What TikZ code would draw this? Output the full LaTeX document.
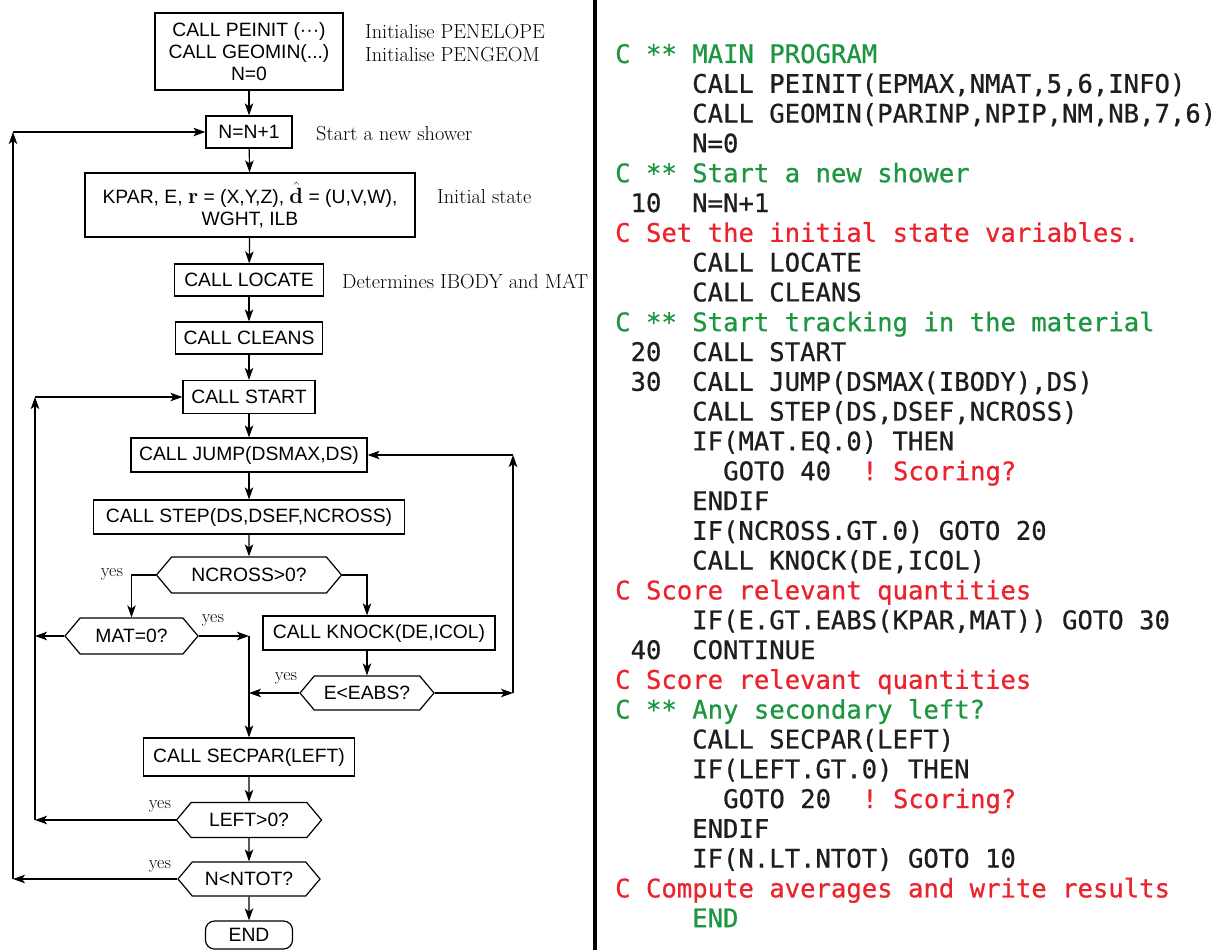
\documentclass[tikz,border=0pt]{standalone}
\usepackage{fontspec}
\usetikzlibrary{arrows.meta,shapes.symbols}
\newfontfamily\sansf{Liberation Sans}
\newfontfamily\codef[FakeBold=0.7]{DejaVu Sans Mono}
\definecolor{cgreen}{RGB}{30,150,65}
\definecolor{cred}{RGB}{235,35,45}
\definecolor{ccode}{RGB}{30,30,30}
\newcommand{\bvec}[1]{{\rmfamily\bfseries\fontsize{22}{22}\selectfont #1}}
\tikzset{
  box/.style={draw, line width=1.2pt, font=\sansf\fontsize{19.3}{22}\selectfont, inner xsep=6pt, inner ysep=2pt, minimum height=33pt},
  hexa/.style={draw, line width=1.2pt, signal, signal to=west and east, signal pointer angle=100, inner xsep=2pt, inner ysep=0pt, font=\sansf\fontsize{19.3}{22}\selectfont},
  endbox/.style={draw, line width=1.2pt, rounded corners=9pt, font=\sansf\fontsize{19.3}{22}\selectfont, inner sep=2pt},
  arr/.style={line width=1.2pt, -{Stealth[length=12pt,width=8.5pt,inset=3pt]}},
  anno/.style={anchor=west, inner sep=0pt, font=\fontsize{20.3}{22}\selectfont},
  yeslbl/.style={inner sep=0pt, font=\fontsize{18}{20}\selectfont},
  code/.style={anchor=base west, inner sep=0pt, text=ccode, font=\codef\fontsize{25.6}{28}\selectfont\frenchspacing},
}
\begin{document}
\begin{tikzpicture}[x=1pt,y=-1pt]
\useasboundingbox (0,0) rectangle (1222,950);
% divider
\draw[line width=4pt] (595,0) -- (595,950);

% flowchart nodes
\node[box, minimum width=188, minimum height=77, align=center] (init) at (249,51.5) {CALL PEINIT (···)\\CALL GEOMIN(...)\\N=0};
\node[box, minimum width=86, minimum height=32] (nn) at (249,132) {N=N+1};
\node[box, minimum width=330, minimum height=64, align=center] (state) at (250,205) {KPAR, E, \bvec{r} = (X,Y,Z), $\hat{\hbox{\bvec{d}}}$ = (U,V,W),\\WGHT, ILB};
\node[box, minimum width=149, minimum height=32] (locate) at (249,280) {CALL LOCATE};
\node[box, minimum width=147, minimum height=32] (cleans) at (249,338) {CALL CLEANS};
\node[box, minimum width=132, minimum height=33] (start) at (249,397) {CALL START};
\node[box, minimum width=236, minimum height=34] (jump) at (249,455) {CALL JUMP(DSMAX,DS)};
\node[box, minimum width=311, minimum height=34] (step) at (249,517) {CALL STEP(DS,DSEF,NCROSS)};
\node[hexa, minimum width=185, minimum height=36] (ncross) at (249,575) {NCROSS>0?};
\node[hexa, minimum width=133, minimum height=36] (mat) at (131.5,636) {MAT=0?};
\node[box, minimum width=232, minimum height=34] (knock) at (379,633) {CALL KNOCK(DE,ICOL)};
\node[hexa, minimum width=134, minimum height=34] (eabs) at (367,693) {E<EABS?};
\node[box, minimum width=211, minimum height=38] (secpar) at (249,757) {CALL SECPAR(LEFT)};
\node[hexa, minimum width=145, minimum height=35] (left) at (249,820) {LEFT>0?};
\node[hexa, minimum width=142, minimum height=34] (ntot) at (249,879) {N<NTOT?};
\node[endbox, minimum width=87, minimum height=28] (end) at (249,935) {END};

% annotations
\node[anno] (a1) at (365,32) {Initialise PENELOPE};
\node[anno] (a2) at (365,55) {Initialise PENGEOM};
\node[anno] (a3) at (316,134) {Start a new shower};
\node[anno] (a4) at (437,197) {Initial state};
\node[anno] (a5) at (342,281) {Determines IBODY and MAT};

% yes labels
\node[yeslbl] (y1) at (112,574) {yes};
\node[yeslbl] (y2) at (213,620) {yes};
\node[yeslbl] (y3) at (286,678) {yes};
\node[yeslbl] (y4) at (160,806) {yes};
\node[yeslbl] (y5) at (160,866) {yes};

% loop guide coordinates
\coordinate (oL) at (13,0);
\coordinate (iL) at (35,0);
\coordinate (rR) at (513,0);

% main column
\draw[arr] (init) -- (nn);
\draw[arr] (nn) -- (state);
\draw[arr] (state) -- (locate);
\draw[arr] (locate) -- (cleans);
\draw[arr] (cleans) -- (start);
\draw[arr] (start) -- (jump);
\draw[arr] (jump) -- (step);
\draw[arr] (step) -- (ncross);
\draw[arr] (ncross.west) -| (mat.north);
\draw[arr] (ncross.east) -| (knock.north -| eabs.north);
\draw[arr] (knock.south -| eabs.north) -- (eabs.north);
\draw[arr] (mat.east) -- (mat.east -| secpar.north);
\draw[arr] (eabs.west) -- (eabs.west -| secpar.north);
\draw[arr] (mat.east -| secpar.north) -- (secpar.north);
\draw[arr] (secpar) -- (left);
\draw[arr] (left) -- (ntot);
\draw[arr] (ntot) -- (end);

% outer loop
\draw[arr] (ntot.west) -- (ntot.west -| oL);
\draw[arr] (ntot.west -| oL) -- (nn.west -| oL);
\draw[arr] (nn.west -| oL) -- (nn.west);
% inner loop
\draw[arr] (left.west) -- (left.west -| iL);
\draw[arr] (mat.west) -- (mat.west -| iL);
\draw[arr] (left.west -| iL) -- (start.west -| iL);
\draw[arr] (start.west -| iL) -- (start.west);
% right loop
\draw[arr] (eabs.east) -- (eabs.east -| rR);
\draw[arr] (eabs.east -| rR) -- (jump.east -| rR);
\draw[arr] (jump.east -| rR) -- (jump.east);

% code listing
\node[code, text=cgreen] (l1) at (615,63) {C ** MAIN PROGRAM};
\node[code] (l2) at (692,92.8) {CALL PEINIT(EPMAX,NMAT,5,6,INFO)};
\node[code] (l3) at (692,122.6) {CALL GEOMIN(PARINP,NPIP,NM,NB,7,6)};
\node[code] (l4) at (692,152.4) {N=0};
\node[code, text=cgreen] (l5) at (615,182.2) {C ** Start a new shower};
\node[code] (l6n) at (630.4,212) {10};
\node[code] (l6) at (692,212) {N=N+1};
\node[code, text=cred] (l7) at (615,241.8) {C Set the initial state variables.};
\node[code] (l8) at (692,271.6) {CALL LOCATE};
\node[code] (l9) at (692,301.4) {CALL CLEANS};
\node[code, text=cgreen] (l10) at (615,331.2) {C ** Start tracking in the material};
\node[code] (l11n) at (630.4,361) {20};
\node[code] (l11) at (692,361) {CALL START};
\node[code] (l12n) at (630.4,390.8) {30};
\node[code] (l12) at (692,390.8) {CALL JUMP(DSMAX(IBODY),DS)};
\node[code] (l13) at (692,420.6) {CALL STEP(DS,DSEF,NCROSS)};
\node[code] (l14) at (692,450.4) {IF(MAT.EQ.0) THEN};
\node[code] (l15) at (723,480.2) {GOTO 40};
\node[code, text=cred] (l15c) at (862,480.2) {! Scoring?};
\node[code] (l16) at (692,510) {ENDIF};
\node[code] (l17) at (692,539.8) {IF(NCROSS.GT.0) GOTO 20};
\node[code] (l18) at (692,569.6) {CALL KNOCK(DE,ICOL)};
\node[code, text=cred] (l19) at (615,599.4) {C Score relevant quantities};
\node[code] (l20) at (692,629.2) {IF(E.GT.EABS(KPAR,MAT)) GOTO 30};
\node[code] (l21n) at (630.4,659) {40};
\node[code] (l21) at (692,659) {CONTINUE};
\node[code, text=cred] (l22) at (615,688.8) {C Score relevant quantities};
\node[code, text=cgreen] (l23) at (615,718.6) {C ** Any secondary left?};
\node[code] (l24) at (692,748.4) {CALL SECPAR(LEFT)};
\node[code] (l25) at (692,778.2) {IF(LEFT.GT.0) THEN};
\node[code] (l26) at (723,808) {GOTO 20};
\node[code, text=cred] (l26c) at (862,808) {! Scoring?};
\node[code] (l27) at (692,837.8) {ENDIF};
\node[code] (l28) at (692,867.6) {IF(N.LT.NTOT) GOTO 10};
\node[code, text=cred] (l29) at (615,897.4) {C Compute averages and write results};
\node[code, text=cgreen] (l30) at (692,927.2) {END};
\end{tikzpicture}
\end{document}
